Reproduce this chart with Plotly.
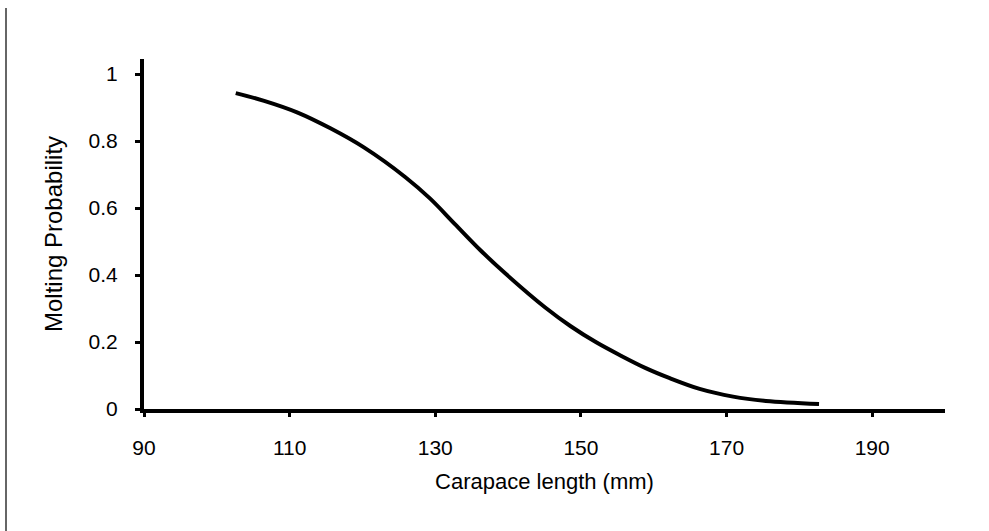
import plotly.graph_objects as go

# Values
carapace_length = [102.6, 106.5, 111.1, 115.6, 120.2, 125.9, 129.3, 132.7, 136.2,
                   139.6, 145.1, 148.6, 152.1, 155.5, 158.9, 162.2, 166.3, 170.9,
                   175.4, 182.7]
molting_prob = [0.943, 0.920, 0.885, 0.838, 0.781, 0.692, 0.628, 0.552, 0.474,
                0.405, 0.303, 0.247, 0.199, 0.159, 0.122, 0.092, 0.060, 0.037,
                0.024, 0.015]

x_ticks = [90, 110, 130, 150, 170, 190]
y_ticks = [0, 0.2, 0.4, 0.6, 0.8, 1]
y_tick_text = ["0", "0.2", "0.4", "0.6", "0.8", "1"]

FONT = "Liberation Sans, Arial, sans-serif"

fig = go.Figure()
fig.add_trace(go.Scatter(
    x=carapace_length, y=molting_prob, mode="lines",
    line=dict(color="black", width=4, shape="spline", smoothing=1.0),
    showlegend=False, hoverinfo="x+y",
))

L, R, T, B = 144, 44, 59, 122
fig.update_layout(
    width=989, height=531,
    margin=dict(l=L, r=R, t=T, b=B, autoexpand=False),
    paper_bgcolor="white", plot_bgcolor="white",
    font=dict(family=FONT, size=21, color="black"),
    xaxis=dict(
        range=[90, 200], tickvals=x_ticks,
        showgrid=False, zeroline=False,
        showline=True, linecolor="black", linewidth=4,
        ticks="outside", ticklen=4, tickwidth=3, tickcolor="black",
        ticklabelstandoff=13,
        title=dict(text="Carapace length (mm)", font=dict(size=22), standoff=16),
    ),
    yaxis=dict(
        range=[0, 1.045], tickvals=y_ticks, ticktext=y_tick_text,
        showgrid=False, zeroline=False,
        showline=True, linecolor="black", linewidth=4,
        ticks="outside", ticklen=5, tickwidth=3, tickcolor="black",
        ticklabelstandoff=13,
        title=dict(text="Molting Probability", font=dict(size=24), standoff=20),
    ),
    shapes=[dict(
        type="line", xref="paper", yref="paper",
        x0=(6 - L) / (989 - L - R), x1=(6 - L) / (989 - L - R),
        y0=(531 - B - 8) / (531 - T - B), y1=(531 - B - 531) / (531 - T - B),
        line=dict(color="#333333", width=1.5),
    )],
)

fig.write_html("out.html", config={"displayModeBar": False},
               post_script="document.body.style.margin='0';")
